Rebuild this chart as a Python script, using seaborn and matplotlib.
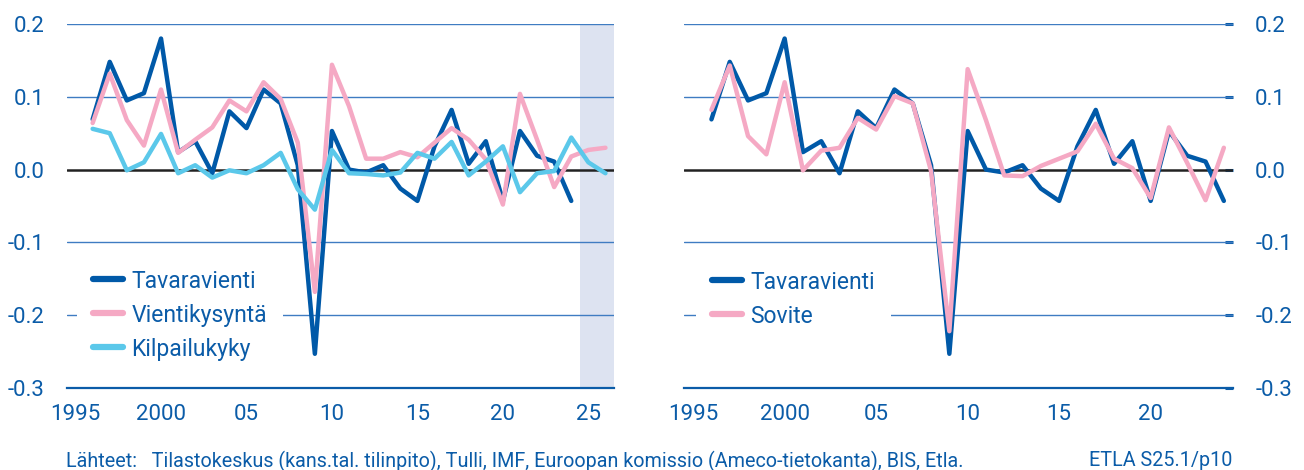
import numpy as np
import pandas as pd
import matplotlib.pyplot as plt
import seaborn as sns

sns.set_style('white')
plt.rcParams['font.family'] = ['Roboto', 'DejaVu Sans']

# vuodet
vuodet_a = list(range(1996, 2025))
vuodet_b = list(range(1996, 2027))

# sarjat (luettu kuvasta)
tavaravienti = [0.069, 0.148, 0.095, 0.105, 0.180, 0.024, 0.039, -0.005, 0.080, 0.057,
                0.110, 0.091, 0.006, -0.253, 0.053, 0.000, -0.004, 0.006, -0.026, -0.043,
                0.032, 0.082, 0.008, 0.039, -0.043, 0.053, 0.019, 0.011, -0.043]
vientikysynta = [0.064, 0.132, 0.068, 0.033, 0.110, 0.023, 0.041, 0.058, 0.095, 0.080,
                 0.120, 0.097, 0.037, -0.168, 0.144, 0.087, 0.015, 0.015, 0.024, 0.017,
                 0.037, 0.057, 0.041, 0.014, -0.048, 0.104, 0.041, -0.024, 0.018, 0.027, 0.030]
kilpailukyky = [0.056, 0.050, -0.001, 0.010, 0.049, -0.005, 0.006, -0.011, -0.001, -0.005,
                0.006, 0.023, -0.027, -0.055, 0.027, -0.005, -0.006, -0.008, -0.004, 0.023,
                0.015, 0.038, -0.008, 0.011, 0.032, -0.031, -0.005, -0.002, 0.044, 0.010, -0.005]
sovite = [0.082, 0.143, 0.046, 0.021, 0.120, -0.001, 0.026, 0.030, 0.071, 0.055,
          0.101, 0.091, -0.002, -0.222, 0.138, 0.068, -0.008, -0.009, 0.005, 0.015,
          0.025, 0.063, 0.015, 0.002, -0.039, 0.058, 0.009, -0.042, 0.030]

# akselit
y_ticks = [-0.3, -0.2, -0.1, 0.0, 0.1, 0.2]
y_labels = ['-0.3', '-0.2', '-0.1', '0.0', '0.1', '0.2']
x_ticks_l = [1995, 2000, 2005, 2010, 2015, 2020, 2025]
x_labels_l = ['1995', '2000', '05', '10', '15', '20', '25']
x_ticks_r = [1995, 2000, 2005, 2010, 2015, 2020]
x_labels_r = ['1995', '2000', '05', '10', '15', '20']

TEXT = '#0b5ca8'
DARK = '#0059a8'
PINK = '#f5a9c4'
LIGHT = '#5bc8ea'
GRID = '#3f7cc2'
SHADE = '#dde3f1'

fig = plt.figure(figsize=(13.04, 4.70), dpi=100)
ax1 = fig.add_axes([67/1304, 82/470, 547/1304, 364/470])
ax2 = fig.add_axes([684/1304, 82/470, 549/1304, 364/470])


def muotoile(ax, x0, x1, xt, xl, oikea=False):
    ax.set_xlim(x0, x1)
    ax.set_ylim(-0.3, 0.2)
    for s in ['top', 'left', 'right']:
        ax.spines[s].set_visible(False)
    ax.spines['bottom'].set_color(TEXT)
    ax.spines['bottom'].set_linewidth(1.6)

    for v in [-0.2, -0.1, 0.1, 0.2]:
        ax.axhline(v, color=GRID, lw=1.0, zorder=1)
    ax.axhline(0, color='#222222', lw=1.8, zorder=1.5)

    ax.set_yticks(y_ticks, y_labels)
    ax.tick_params(axis='y', direction='in', length=6, width=2.2, color=TEXT,
                   pad=16, labelsize=16, labelcolor=TEXT)
    if oikea:
        ax.yaxis.tick_right()
        ax.tick_params(axis='y', left=False, right=True, labelleft=False, labelright=True)

    # rajaviivat vuosien valissa
    ax.set_xticks(np.arange(1995.5, x1, 5))
    ax.set_xticks(np.arange(1995.5, x1, 1), minor=True)
    ax.tick_params(axis='x', which='major', direction='in', length=8, width=1.4,
                   color=TEXT, labelbottom=False)
    ax.tick_params(axis='x', which='minor', direction='in', length=5, width=1.2,
                   color=TEXT)

    sec = ax.secondary_xaxis('bottom')
    sec.set_xticks(xt, xl)
    sec.tick_params(length=0, pad=11.5, labelsize=16, labelcolor=TEXT)
    sec.spines['bottom'].set_visible(False)
    ax.set_xlabel('')
    ax.set_ylabel('')


# vasen paneeli
ax1.axvspan(2024.5, 2026.5, color=SHADE, lw=0, zorder=0)
sns.lineplot(x=vuodet_a, y=tavaravienti, ax=ax1, color=DARK, lw=3.2, label='Tavaravienti', zorder=3)
sns.lineplot(x=vuodet_b, y=vientikysynta, ax=ax1, color=PINK, lw=3.2, label='Vientikysyntä', zorder=3)
sns.lineplot(x=vuodet_b, y=kilpailukyky, ax=ax1, color=LIGHT, lw=3.2, label='Kilpailukyky', zorder=3)
muotoile(ax1, 1994.5, 2026.5, x_ticks_l, x_labels_l)

# oikea paneeli
sns.lineplot(x=vuodet_a, y=tavaravienti, ax=ax2, color=DARK, lw=3.2, label='Tavaravienti', zorder=3)
sns.lineplot(x=vuodet_a, y=sovite, ax=ax2, color=PINK, lw=3.2, label='Sovite', zorder=3)
muotoile(ax2, 1994.5, 2024.5, x_ticks_r, x_labels_r, oikea=True)

for ax, pos in [(ax1, (0.019, 0.2005)), (ax2, (0.0226, 0.2445))]:
    leg = ax.legend(loc='center left', bbox_to_anchor=pos, frameon=True, fancybox=False,
                    edgecolor='none', facecolor='white', framealpha=1, fontsize=16.5,
                    handlelength=1.3, handletextpad=0.36, labelspacing=0.48,
                    borderpad=0.7, borderaxespad=0, labelcolor=TEXT)
    for h in leg.get_lines():
        h.set_linewidth(4.5)

fig.text(66/1304, 1 - 461/470,
         'Lähteet:   Tilastokeskus (kans.tal. tilinpito), Tulli, IMF, Euroopan komissio (Ameco-tietokanta), BIS, Etla.',
         ha='left', va='center', fontsize=14.2, color=TEXT)
fig.text(1232/1304, 1 - 461/470, 'ETLA S25.1/p10', ha='right', va='center',
         fontsize=14.2, color=TEXT)

fig.savefig('out.png', dpi=100)
